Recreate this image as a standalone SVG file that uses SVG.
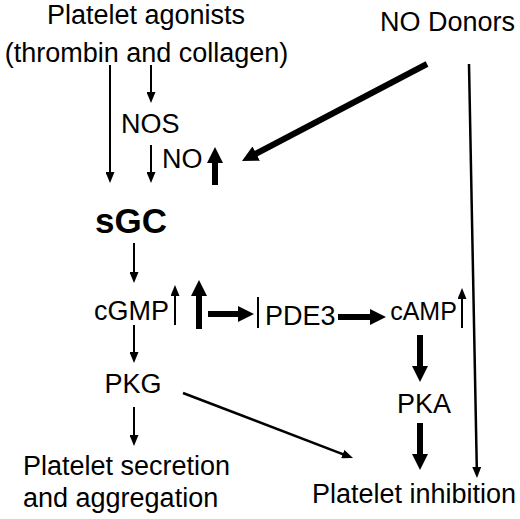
<svg xmlns="http://www.w3.org/2000/svg" width="520" height="519" viewBox="0 0 520 519">
<style>
text{font-family:"Liberation Sans",Arial,sans-serif;font-size:27px;fill:#000}
.b{font-weight:bold;font-size:35px}
.m{text-anchor:middle}
.thin{stroke:#000;stroke-width:2;fill:none;marker-end:url(#ah)}
.thick{stroke:#000;stroke-width:6;fill:none;marker-end:url(#AH)}
</style>
<defs>
<marker id="ah" viewBox="0 0 11 9" refX="2" refY="4.5" markerWidth="11" markerHeight="9" markerUnits="userSpaceOnUse" orient="auto"><path d="M0,0 L11,4.5 L0,9 z" fill="#000"/></marker>
<marker id="AH" viewBox="0 0 16 16" refX="2" refY="8" markerWidth="16" markerHeight="16" markerUnits="userSpaceOnUse" orient="auto"><path d="M0,0 L16,8 L0,16 z" fill="#000"/></marker>
</defs>
<rect width="520" height="519" fill="#fff"/>
<g id="connectors">
<line class="thin" x1="110" y1="65" x2="110" y2="174"/>
<line class="thin" x1="151" y1="65" x2="151" y2="94"/>
<line class="thin" x1="151" y1="145" x2="151" y2="174"/>
<line class="thick" x1="215" y1="185" x2="215" y2="161"/>
<line class="thick" x1="427" y1="64" x2="254.4" y2="154.5"/>
<line class="thin" style="stroke-width:2.5" x1="469" y1="64" x2="476.8" y2="469"/>
<line class="thin" x1="134" y1="243" x2="134" y2="274"/>
<line class="thin" x1="175" y1="325" x2="175" y2="294"/>
<line class="thick" x1="199" y1="329" x2="199" y2="294"/>
<line class="thick" x1="208" y1="314" x2="240" y2="314"/>
<line x1="258" y1="297" x2="258" y2="328" stroke="#000" stroke-width="2"/>
<line class="thick" x1="338" y1="317" x2="372" y2="317"/>
<line class="thin" x1="462" y1="328" x2="462" y2="297"/>
<line class="thick" x1="420" y1="335" x2="420" y2="368"/>
<line class="thick" x1="420" y1="423" x2="420" y2="456"/>
<line class="thin" x1="134" y1="325" x2="134" y2="354"/>
<line class="thin" x1="134" y1="407" x2="134" y2="437"/>
<line class="thin" style="stroke-width:2.5" x1="183" y1="393" x2="344.6" y2="454.8"/>
</g>
<g id="agonists"><text class="m" x="146" y="24">Platelet agonists</text><text class="m" x="146.5" y="62">(thrombin and collagen)</text></g>
<g id="donors"><text class="m" x="447.5" y="31">NO Donors</text></g>
<g id="nos"><text x="121" y="133">NOS</text></g>
<g id="no"><text x="162" y="168">NO</text></g>
<g id="sgc"><text class="b m" x="131" y="233">sGC</text></g>
<g id="cgmp"><text class="m" x="131.5" y="320">cGMP</text></g>
<g id="pde3"><text x="265" y="325">PDE3</text></g>
<g id="camp"><text class="m" x="423.5" y="320" style="font-size:25px">cAMP</text></g>
<g id="pkg"><text class="m" x="133" y="393">PKG</text></g>
<g id="pka"><text class="m" x="424" y="413">PKA</text></g>
<g id="secretion"><text x="23" y="475">Platelet secretion</text><text x="23" y="507">and aggregation</text></g>
<g id="inhibition"><text class="m" x="414" y="503">Platelet inhibition</text></g>
</svg>
